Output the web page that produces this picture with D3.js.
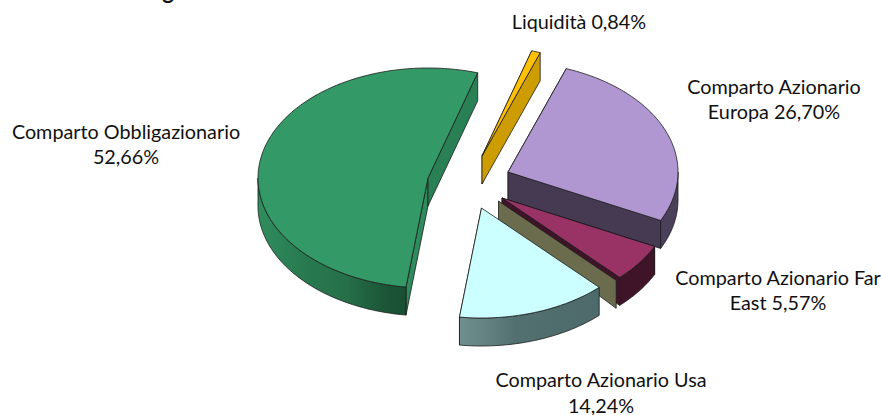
<!DOCTYPE html>
<html>
<head>
<meta charset="utf-8">
<script src="https://cdn.jsdelivr.net/npm/d3@7"></script>
<style>
  html, body { margin: 0; padding: 0; background: #fff; }
  svg { display: block; }
  text { font-family: Lato, "Open Sans", sans-serif; font-size: 19.8px; fill: #111; text-anchor: middle; }
</style>
</head>
<body>
<svg id="chart" width="881" height="415"></svg>
<script>
// values, clockwise from the first slice
const categories = ['Liquidità', 'Comparto Azionario Europa', 'Comparto Azionario Far East', 'Comparto Azionario Usa', 'Comparto Obbligazionario'];
const values = [0.84, 26.70, 5.57, 14.24, 52.66];
const labelLines = [
    ['Liquidità 0,84%'],
    ['Comparto Azionario', 'Europa 26,70%'],
    ['Comparto Azionario Far', 'East 5,57%'],
    ['Comparto Azionario Usa', '14,24%'],
    ['Comparto Obbligazionario', '52,66%']
];

// styles and layout
const topColors = ['#ffc000', '#b097d2', '#993366', '#ccffff', '#339966'];
const startCutColors = ['#cc9c00', '#453a52', '#3f1429', '#6b6b4e', '#2e8b5c'];
const endCutColors = ['#cc9c00', '#453a52', '#3f1429', '#4e6a6a', '#2a8055'];
const explode = [[12, -24], [38, -8], [32, 18], [11.5, 28], [-42, -2]];
const labelPos = [[579, 29], [774, 93.5], [778, 284.5], [601, 387], [126, 138.5]];
const lineHeight = 25.5;
const centre = [470, 180];
const rx = 170, ry = 110, depth = 28;
const firstAngle = 17 * Math.PI / 180;
const drawOrder = [4, 0, 1, 2, 3];

const svg = d3.select('#chart');
const defs = svg.append('defs');

const xscale = d3.scaleLinear().domain([-1, 1]).range([centre[0] - rx, centre[0] + rx]);
const yscale = d3.scaleLinear().domain([-1, 1]).range([centre[1] + ry, centre[1] - ry]);

const slices = d3.pie().sort(null).startAngle(firstAngle).endAngle(firstAngle + 2 * Math.PI)(values);

const line = d3.line();
const closed = pts => line(pts) + 'Z';

function rimPoint(i, a, drop) {
    return [xscale(Math.sin(a)) + explode[i][0], yscale(Math.cos(a)) + explode[i][1] + (drop || 0)];
}
function apex(i, drop) {
    return [centre[0] + explode[i][0], centre[1] + explode[i][1] + (drop || 0)];
}
function arcPoints(i, a0, a1, drop) {
    const n = Math.max(2, Math.ceil(Math.abs(a1 - a0) * 60));
    return d3.range(n + 1).map(k => rimPoint(i, a0 + (a1 - a0) * k / n, drop));
}

function rimGradient(id, stops) {
    const g = defs.append('linearGradient').attr('id', id)
        .attr('x1', 0).attr('x2', 1).attr('y1', 0).attr('y2', 0);
    stops.forEach(s => g.append('stop').attr('offset', s[0]).attr('stop-color', s[1]));
    return `url(#${id})`;
}

const rimFills = [
    '#cc9c00',
    '#4a4059',
    '#3f1429',
    rimGradient('rim-usa', [[0, '#6f8f8f'], [0.2, '#648181'], [0.4, '#527070'], [1, '#4e6a6a']]),
    rimGradient('rim-obb', [[0, '#2f8d5e'], [0.3, '#287a50'], [0.6, '#256f49'], [0.85, '#1b5738'], [1, '#194f34']])
];

const chart = svg.append('g')
    .attr('stroke', '#1c1c1c')
    .attr('stroke-width', 0.8)
    .attr('stroke-linejoin', 'round');

function face(pts, fill) {
    chart.append('path').attr('d', closed(pts)).attr('fill', fill);
}

drawOrder.forEach(i => {
    const s = slices[i];
    const a0 = s.startAngle, a1 = s.endAngle;
    const name = categories[i];

    // the cuts between Far East and Usa show as tapered strips
    if (name === 'Comparto Azionario Far East') {
        face([apex(i), rimPoint(i, a0), rimPoint(i, a0, depth), apex(i, depth / 2)], startCutColors[i]);
    } else if (name === 'Comparto Azionario Usa') {
        const shift = p => [p[0] + 17, p[1] - 7];
        face([apex(i), rimPoint(i, a0), rimPoint(i, a0, depth), apex(i, 20)].map(shift), startCutColors[i]);
    } else {
        face([apex(i), rimPoint(i, a0), rimPoint(i, a0, depth), apex(i, depth)], startCutColors[i]);
    }
    face([apex(i), rimPoint(i, a1), rimPoint(i, a1, depth), apex(i, depth)], endCutColors[i]);

    // outer wall: only the part on the front half of the ellipse
    const w0 = Math.max(a0, Math.PI / 2), w1 = Math.min(a1, 3 * Math.PI / 2);
    if (w1 > w0) {
        face(arcPoints(i, w0, w1, 0).concat(arcPoints(i, w1, w0, depth)), rimFills[i]);
    }

    // top face
    face([apex(i)].concat(arcPoints(i, a0, a1, 0)), topColors[i]);
});

// labels
labelLines.forEach((lines, i) => {
    lines.forEach((t, k) => {
        svg.append('text')
            .attr('x', labelPos[i][0])
            .attr('y', labelPos[i][1] + k * lineHeight)
            .text(t);
    });
});

// what is left of the title, cut by the top edge
svg.append('text')
    .attr('x', 168)
    .attr('y', -1.5)
    .style('font-size', '22px')
    .style('font-weight', 'bold')
    .text('g');
</script>
</body>
</html>
